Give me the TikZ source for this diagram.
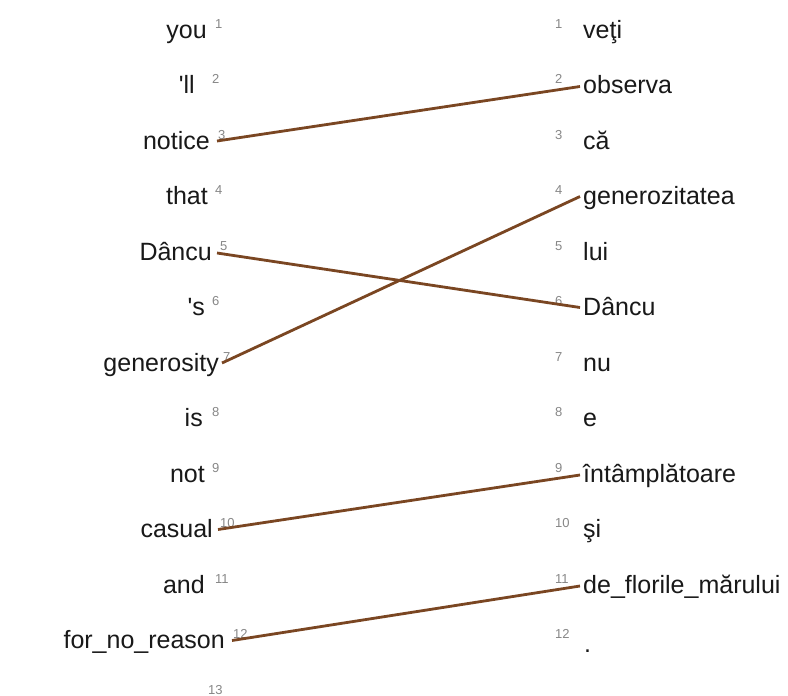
\documentclass[tikz,border=0pt]{standalone}
\usepackage{fontspec}
\setmainfont{Liberation Sans}[Ligatures=TeXOff]
\definecolor{linkbrown}{RGB}{122,70,34}
\definecolor{numgray}{RGB}{135,135,135}
\definecolor{wordcol}{RGB}{25,25,25}
\begin{document}
\begin{tikzpicture}[x=1pt,y=-1pt,
  word/.style={inner sep=0pt, font=\fontsize{25}{25}\selectfont, text=wordcol},
  lw/.style={word, anchor=base east},
  rw/.style={word, anchor=base west},
  num/.style={inner sep=0pt, font=\fontsize{13}{13}\selectfont, text=numgray, anchor=base west},
  link/.style={draw=linkbrown, line width=2.8pt}]
\useasboundingbox (0,0) rectangle (788,696);
\fill[white] (0,0) rectangle (788,696);
% left column: index / word / right end of word / x of number
\foreach \i/\w/\xe/\xn in {1/you/207/215, 2/'ll/195/212, 3/notice/210/218, 4/that/208/215,
  5/Dâncu/212/220, 6/'s/205/212, 7/generosity/219/223, 8/is/203/212, 9/not/205/212,
  10/casual/213/220, 11/and/205/215, 12/for\_no\_reason/225/233}{
  \pgfmathsetmacro\b{38+(\i-1)*55.5}
  \node[lw] (L\i) at (\xe,\b) {\w};
  \node[num] (LN\i) at (\xn,\b-10) {\i};
}
\node[num] (LN13) at (208,694) {13};
% right column
\foreach \i/\w in {1/veţi, 2/observa, 3/că, 4/generozitatea, 5/lui, 6/Dâncu, 7/nu, 8/e,
  9/întâmplătoare, 10/şi, 11/de\_florile\_mărului}{
  \pgfmathsetmacro\b{38+(\i-1)*55.5}
  \node[rw] (R\i) at (583,\b) {\w};
  \node[num] (RN\i) at (555,\b-10) {\i};
}
\node[rw] (R12) at (584,652) {.};
\node[num] (RN12) at (555,638.5) {12};
% alignment links
\draw[link] ([xshift=7pt,yshift=8pt]L3.base east) -- ([xshift=-3pt,yshift=7pt]R2.base west);
\draw[link] ([xshift=5pt,yshift=7pt]L5.base east) -- ([xshift=-3pt,yshift=8pt]R6.base west);
\draw[link] ([xshift=3pt,yshift=8pt]L7.base east) -- ([xshift=-3pt,yshift=8pt]R4.base west);
\draw[link] ([xshift=5pt,yshift=8pt]L10.base east) -- ([xshift=-3pt,yshift=7pt]R9.base west);
\draw[link] ([xshift=7pt,yshift=8pt]L12.base east) -- ([xshift=-3pt,yshift=7pt]R11.base west);
\end{tikzpicture}
\end{document}
